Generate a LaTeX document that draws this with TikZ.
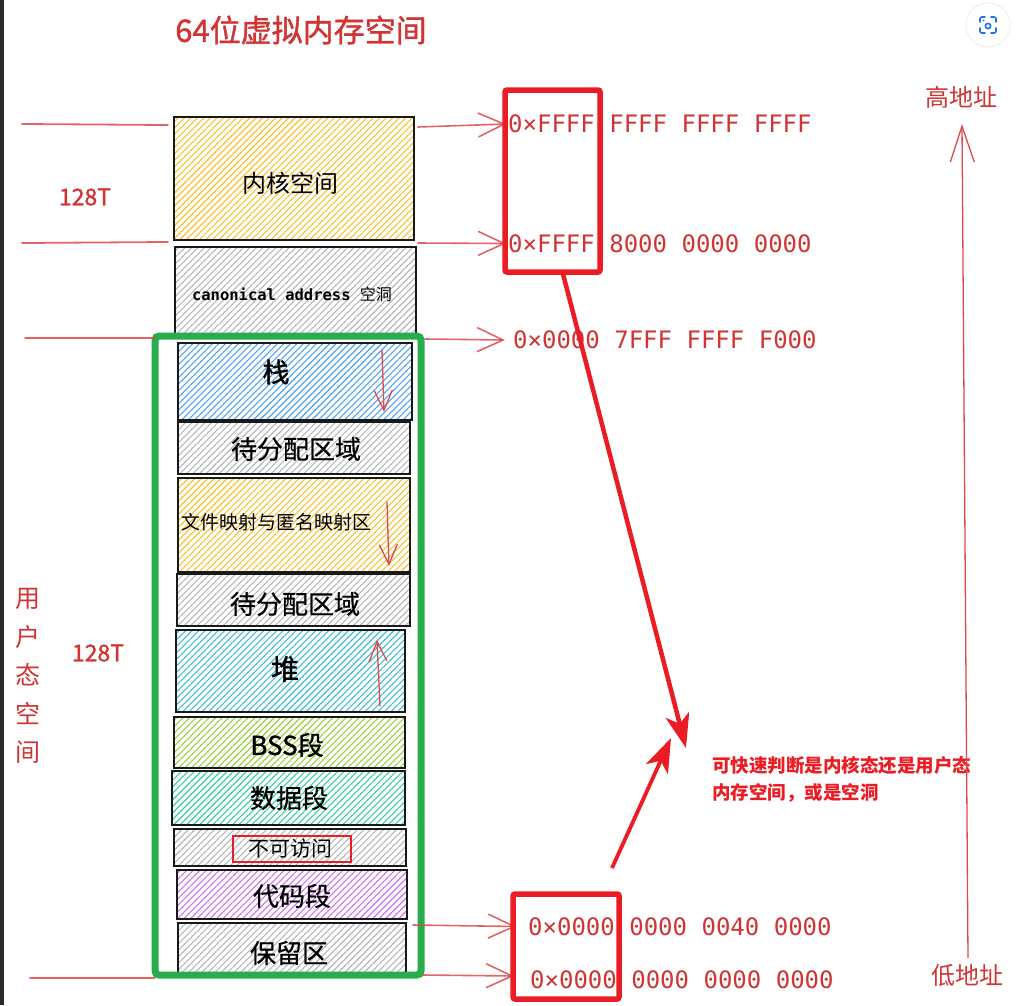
\documentclass[tikz,border=0pt]{standalone}
\usepackage{fontspec}
\setmainfont{Noto Sans CJK SC}
\newfontfamily\monofont{DejaVu Sans Mono}
\newfontfamily\cjk{Noto Sans CJK SC}
\newfontfamily\medfont[FakeBold=1.3]{Noto Sans CJK SC}
\newfontfamily\semifont[FakeBold=0.5]{Noto Sans CJK SC}
\usetikzlibrary{arrows.meta,patterns.meta,calc}

\definecolor{txtred}{HTML}{D03434}
\definecolor{boxred}{HTML}{EC1C24}
\definecolor{linered}{HTML}{DD4A4A}
\definecolor{ugreen}{HTML}{27AD4C}
\definecolor{hyellow}{HTML}{FCC22D}
\definecolor{hgray}{HTML}{B4B8BC}
\definecolor{hblue}{HTML}{4FA3F0}
\definecolor{hcyan}{HTML}{3FBEDA}
\definecolor{hlime}{HTML}{9BD13C}
\definecolor{hteal}{HTML}{36CFA0}
\definecolor{hpurple}{HTML}{CF72EE}
\definecolor{lensblue}{HTML}{1A73E8}
\definecolor{strip}{HTML}{2A2A2A}

\newcommand{\fsz}[1]{\fontsize{#1}{#1}\selectfont}

\begin{document}
\begin{tikzpicture}[x=1pt,y=-1pt,
  seg/.style={draw=black!90, line width=1.6pt, inner sep=0pt, outer sep=0pt},
  hatch/.style={pattern={Lines[angle=45,distance=4.6pt,line width=1.1pt]}, pattern color=#1},
  lbl/.style={inner sep=0pt, text=black, font=\semifont\fsz{26}},
  redtxt/.style={inner sep=0pt, text=txtred},
  addr/.style={inner sep=0pt, text=txtred, font=\monofont\fsz{24}, anchor=west},
  redbox/.style={draw=boxred, line width=5.5pt, rounded corners=2pt, inner sep=0pt, outer sep=0pt},
  bound/.style={draw=linered, opacity=0.85, line width=1.8pt, line cap=round},
  ptr/.style={draw=linered, opacity=0.85, line width=1.6pt, line cap=round,
    -{Straight Barb[length=26pt,width=24pt,line width=1.6pt]}},
  growarrow/.style={draw=linered, line width=1.3pt, line cap=round,
    -{Straight Barb[length=20pt,width=18pt,line width=1.3pt]}},
  bigarrow/.style={draw=boxred, line width=4.5pt,
    -{Stealth[length=34pt,width=24pt,inset=9pt]}},
  axisline/.style={draw=linered, line width=1.3pt,
    -{Straight Barb[length=36pt,width=24pt,line width=1.3pt]}}
]
\fill[white] (0,0) rectangle (1018,1005);
\useasboundingbox (0,0) rectangle (1018,1005);
\fill[strip] (0,0) rectangle (3.5,1005);

% title
\node[redtxt, font=\medfont\fsz{31}] (title) at (301,30) {64位虚拟内存空间};

% memory segments, top to bottom
\node[seg, hatch=hyellow, minimum width=240pt, minimum height=123pt] (kern) at (294,178.5) {};
\node[seg, hatch=hgray,   minimum width=241pt, minimum height=91pt]  (hole) at (295.5,292.5) {};
\node[seg, hatch=hblue,   minimum width=234pt, minimum height=77pt]  (stack) at (295,381.5) {};
\node[seg, hatch=hgray,   minimum width=232pt, minimum height=52pt]  (free1) at (294,448) {};
\node[seg, hatch=hyellow, minimum width=232pt, minimum height=94pt]  (mmap) at (294,525) {};
\node[seg, hatch=hgray,   minimum width=233pt, minimum height=52pt]  (free2) at (293.5,600) {};
\node[seg, hatch=hcyan,   minimum width=229pt, minimum height=82pt]  (heap) at (290.5,671) {};
\node[seg, hatch=hlime,   minimum width=231pt, minimum height=51pt]  (bss) at (289.5,742.5) {};
\node[seg, hatch=hteal,   minimum width=233pt, minimum height=54pt]  (data) at (288.5,798) {};
\node[seg, hatch=hgray,   minimum width=232pt, minimum height=37pt]  (noacc) at (290,847.5) {};
\node[seg, hatch=hpurple, minimum width=230pt, minimum height=49pt]  (code) at (292,894.5) {};
\node[seg, hatch=hgray,   minimum width=228pt, minimum height=52pt]  (resv) at (292,949) {};

% segment labels
\node[lbl, font=\cjk\fsz{24}] at (290,183) {内核空间};
\node[lbl, font=\monofont\bfseries\fsz{15.5}] at (292,294) {canonical address {\cjk\mdseries\fsz{16}空洞}};
\node[lbl, font=\medfont\fsz{27}] at (276,372) {栈};
\node[lbl] at (296,449) {待分配区域};
\node[lbl, font=\cjk\fsz{19}] at (276,522) {文件映射与匿名映射区};
\node[lbl] at (295,604) {待分配区域};
\node[lbl, font=\medfont\fsz{28}] at (285,669) {堆};
\node[lbl, font=\medfont\fsz{26}] at (287,745) {BSS段};
\node[lbl] at (289,798) {数据段};
\node[lbl, font=\cjk\fsz{21}] (noacct) at (290,849) {不可访问};
\node[draw=boxred, line width=2.6pt, minimum width=118pt, minimum height=26pt, inner sep=0pt] (noaccbox) at (292,849) {};
\node[lbl] at (292,896) {代码段};
\node[lbl] at (289,953) {保留区};

% growth directions
\draw[growarrow] ($(stack.north east)+(-30,7)$) -- ($(stack.south east)+(-28,-8)$);
\draw[growarrow] ($(mmap.north east)+(-23,24)$) -- ($(mmap.south east)+(-21,-6)$);
\draw[growarrow] ($(heap.south east)+(-25,-6)$) -- ($(heap.north east)+(-28,10)$);

% user space frame
\node[draw=ugreen, line width=7pt, rounded corners=4pt, minimum width=266pt, minimum height=639pt,
      inner sep=0pt, outer sep=0pt] (user) at (288,655.5) {};

% boundary marks on the left
\coordinate (l1) at (22,124);
\coordinate (l2) at (22,243);
\coordinate (l3) at (25,338);
\coordinate (l4) at (30,978);
\draw[bound] (l1) -- ($(kern.north west)+(-6,8)$);
\draw[bound] (l2) -- ($(kern.south west)+(-6,2)$);
\draw[bound] (l3) -- ($(user.north west)+(0,2)$);
\draw[bound] (l4) -- ($(user.south west)+(0,3)$);

\node[redtxt, font=\medfont\fsz{23}] (k128) at (85,197) {128T};
\node[redtxt, font=\medfont\fsz{23}] (u128) at (98,653) {128T};
\node[redtxt, font=\fsz{25}, align=center, text width=30pt] (ulabel) at (28,676)
  {\baselineskip=38.5pt 用\par 户\par 态\par 空\par 间\par};

% addresses
\node[addr] (a1) at (508,124) {0×FFFF FFFF FFFF FFFF};
\node[addr] (a2) at (508,243.5) {0×FFFF 8000 0000 0000};
\node[addr] (a3) at (513,340) {0×0000 7FFF FFFF F000};
\node[addr] (a4) at (528,926.5) {0×0000 0000 0040 0000};
\node[addr] (a5) at (530,980) {0×0000 0000 0000 0000};

\draw[ptr] ($(kern.north east)+(4,10)$) -- ($(a1.west)+(-2,0)$);
\draw[ptr] ($(kern.south east)+(4,3)$) -- ($(a2.west)+(-2,0)$);
\draw[ptr] ($(user.north east)+(4,3)$) -- ($(a3.west)+(-8,0)$);
\draw[ptr] ($(user.east |- resv.north)+(-8,2)$) -- ($(a4.west)+(-12,0)$);
\draw[ptr] ($(user.south east)+(2,0)$) -- ($(a5.west)+(-16,-4)$);

% highlight on the leading 16 bits
\node[redbox, minimum width=95pt, minimum height=182pt] (hibox) at (552.5,181) {};
\node[redbox, minimum width=106pt, minimum height=105pt] (lobox) at (566,946.5) {};

\coordinate (tip1) at (686,748);
\coordinate (tail2) at (612,868);
\coordinate (tip2) at (671,738);
\draw[bigarrow] ([xshift=10pt]hibox.south) -- (tip1);
\draw[bigarrow, line width=3.8pt] (tail2) -- (tip2);

\node[inner sep=0pt, text=boxred, font=\bfseries\fontsize{18.5}{27}\selectfont, align=left, anchor=north west] (note) at (712,756)
  {可快速判断是内核态还是用户态\\内存空间，或是空洞};

% address direction axis
\node[redtxt, font=\fsz{24}] (hi) at (961,97) {高地址};
\node[redtxt, font=\fsz{24}] (lo) at (967,975) {低地址};
\coordinate (axbot) at (968,958);
\coordinate (axtop) at (962,124);
\draw[axisline] (axbot) -- (axtop);

% lens button
\node[circle, fill=white, draw=black!6, line width=1pt, minimum size=44pt, inner sep=0pt] (lens) at (988,25) {};
\begin{scope}[shift={(lens.center)}, draw=lensblue, line width=1.6pt, line cap=round]
  \draw[rounded corners=2pt] (-8,-3) -- (-8,-8) -- (-3,-8);
  \draw[rounded corners=2pt] (3,-8) -- (8,-8) -- (8,-3);
  \draw[rounded corners=2pt] (8,3) -- (8,8) -- (3,8);
  \draw[rounded corners=2pt] (-3,8) -- (-8,8) -- (-8,3);
  \draw (0,1) circle (2.6pt);
  \fill[lensblue] (-4.5,-4.5) circle (1pt);
\end{scope}
\end{tikzpicture}
\end{document}
